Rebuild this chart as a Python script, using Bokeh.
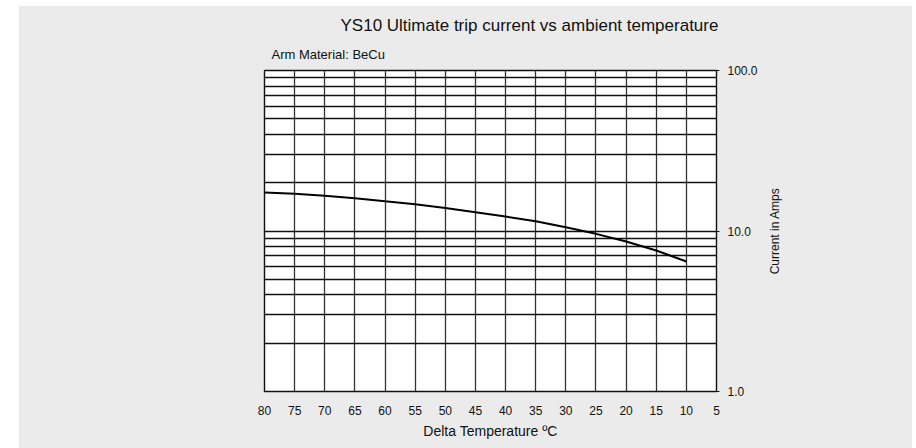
import math
from bokeh.plotting import figure
from bokeh.models import Range1d, FixedTicker, PrintfTickFormatter, Title, Spacer
from bokeh.layouts import row, column
from bokeh.embed import file_html
from bokeh.resources import INLINE

# ---- data ----
temps = [80, 75, 70, 65, 60, 55, 50, 45, 40, 35, 30, 25, 20, 15, 10]
current = [17.4, 17.05, 16.6, 16.0, 15.3, 14.7, 13.9, 13.1, 12.3, 11.5, 10.56, 9.6, 8.6, 7.56, 6.46]
x_ticks = [80, 75, 70, 65, 60, 55, 50, 45, 40, 35, 30, 25, 20, 15, 10, 5]
y_ticks = [1, 10, 100]
y_minor = [2, 3, 4, 5, 6, 7, 8, 9, 20, 30, 40, 50, 60, 70, 80, 90]
title_text = "YS10 Ultimate trip current vs ambient temperature"
subtitle_text = "Arm Material: BeCu"
x_label = "Delta Temperature \u00baC"
y_label = "Current in Amps"

BG = "#ebebeb"
FONT = "Liberation Sans"
INK = "#111111"

p = figure(frame_width=452, frame_height=321,
           x_range=Range1d(80, 5), y_range=Range1d(1, 100),
           y_axis_type="log", y_axis_location="right",
           output_backend="svg", toolbar_location=None, title=None,
           min_border_left=245, min_border_right=41,
           min_border_top=64, min_border_bottom=57,
           background_fill_color="white", border_fill_color=BG)

p.outline_line_color = INK
p.outline_line_width = 1.4

# x axis
p.xaxis.ticker = FixedTicker(ticks=x_ticks)
p.xaxis.major_tick_out = 0
p.xaxis.major_tick_in = 0
p.xaxis.minor_tick_out = 0
p.xaxis.minor_tick_in = 0
p.xaxis.axis_line_color = INK
p.xaxis.major_label_standoff = 14
p.xaxis.major_label_text_font = FONT
p.xaxis.major_label_text_font_size = "12px"
p.xaxis.major_label_text_color = INK
p.xaxis.axis_label = x_label
p.xaxis.axis_label_text_font = FONT
p.xaxis.axis_label_text_font_size = "14px"
p.xaxis.axis_label_text_font_style = "normal"
p.xaxis.axis_label_text_color = INK
p.xaxis.axis_label_standoff = 5

# y axis
p.yaxis.ticker = FixedTicker(ticks=y_ticks, minor_ticks=y_minor)
p.yaxis.formatter = PrintfTickFormatter(format="%.1f")
p.yaxis.major_tick_out = 3
p.yaxis.major_tick_in = 0
p.yaxis.minor_tick_out = 0
p.yaxis.minor_tick_in = 0
p.yaxis.axis_line_color = INK
p.yaxis.major_tick_line_color = INK
p.yaxis.major_label_standoff = 8
p.yaxis.major_label_text_font = FONT
p.yaxis.major_label_text_font_size = "12px"
p.yaxis.major_label_text_color = INK

# grids
p.xgrid.grid_line_color = "#333333"
p.xgrid.grid_line_width = 1.3
p.ygrid.grid_line_color = INK
p.ygrid.grid_line_width = 1.3
p.ygrid.minor_grid_line_color = INK
p.ygrid.minor_grid_line_width = 1.3

# curve
p.line(temps, current, line_color="black", line_width=2)

# titles
sub = Title(text=subtitle_text, align="left", offset=7, text_font=FONT,
            text_font_size="13px", text_font_style="normal", text_color=INK,
            padding=(0, 0, 0, 4), text_line_height=0.7)
main = Title(text=title_text, align="left", offset=76, text_font=FONT,
             text_font_size="17px", text_font_style="normal", text_color=INK)
p.add_layout(sub, "above")
p.add_layout(main, "above")

# y-axis caption, drawn as a left-side title of a narrow companion figure
q = figure(frame_width=1, frame_height=321, output_backend="svg",
           toolbar_location=None, x_axis_location=None, y_axis_location=None,
           min_border_left=0, min_border_right=125,
           min_border_top=64, min_border_bottom=57,
           background_fill_color=BG, background_fill_alpha=1,
           border_fill_color=BG,
           title=y_label, title_location="left")
q.outline_line_color = None
q.grid.visible = False
q.title.align = "center"
q.title.text_font = FONT
q.title.text_font_size = "12px"
q.title.text_font_style = "normal"
q.title.text_color = INK

layout = column(Spacer(width=10, height=6),
                row(Spacer(width=19, height=10),
                    row(p, q, styles={"background-color": BG})))

open("out.html", "w").write(file_html(layout, INLINE))
